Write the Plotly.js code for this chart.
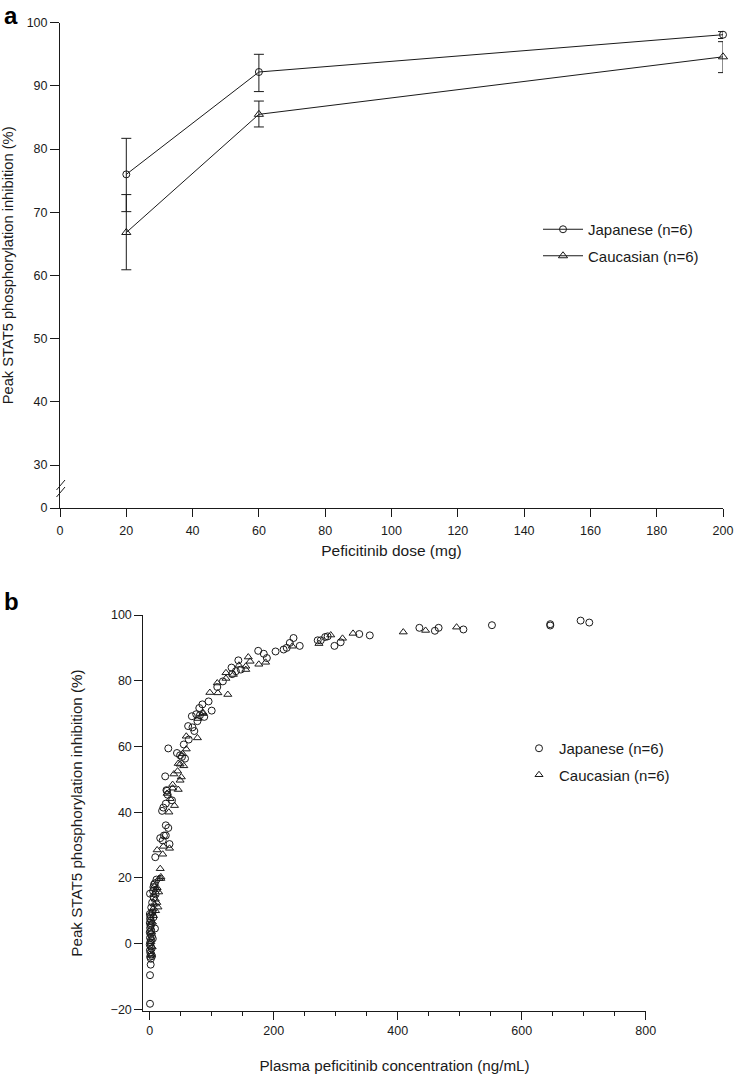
<!DOCTYPE html>
<html>
<head>
<meta charset="utf-8">
<script src="https://cdn.plot.ly/plotly-3.0.1.min.js"></script>
<style>
  html, body { margin: 0; padding: 0; background: #fff; }
  #chart { width: 734px; height: 1074px; }
</style>
</head>
<body>
<div id="chart"></div>
<script>
// Panel a: peak inhibition vs dose (mean +/- SD)
const doses = [20, 60, 200];
const jpnMean = [76.0, 92.2, 98.1];
const jpnErrUp = [5.7, 2.8, 0.5];
const jpnErrDown = [5.9, 3.1, 0.6];
const cauMean = [66.8, 85.5, 94.6];
const cauErrUp = [6.0, 2.1, 2.4];
const cauErrDown = [5.9, 2.0, 2.5];

const aTickText = ['0', '30', '40', '50', '60', '70', '80', '90', '100'];
const aBreakBase = 23.2; // where "0" sits below the axis break
const aXTicks = [0, 20, 40, 60, 80, 100, 120, 140, 160, 180, 200];

// Panel b: inhibition vs plasma concentration (individual points)
const jpnConc = [709, 695, 646, 646, 552, 506, 466, 460, 435, 355, 338, 308, 298, 287, 283, 276, 271, 242, 232, 226, 221, 216, 203, 189, 184, 175,
  147, 143, 139, 133, 132, 118, 109, 100, 95, 88, 85, 81, 80, 77, 75, 72, 69, 68, 63, 62, 57, 55, 52, 49, 44, 30, 36, 28, 29, 27, 26, 22, 20, 25, 30, 26, 32, 21, 26, 23, 17, 9,
  8.5, 6, 11, 7, 0.5, 8.5, 1.6, 0.5, 0.5,
  0.3, 1.2, 0.6, 2.0, 0.2, 1.5, 3.0, 0.8, 2.4, 0.1, 1.4, 3.6, 0.5, 2.1, 0.9, 0.2, 1.7, 3.1, 0.4, 1.1, 2.6, 0.7, 1.9, 3.8, 5.0, 6.0, 4.5, 4.0, 6.5, 2.5, 5.5, 9.5];
const jpnInhib = [97.7, 98.3, 97.2, 96.8, 96.9, 95.6, 96.1, 95.2, 96.1, 93.8, 94.2, 91.7, 90.6, 93.5, 93.3, 92.3, 92.3, 90.6, 93.0, 91.5, 90.0, 89.5, 88.9, 86.9, 88.2, 89.1,
  83.4, 86.2, 82.9, 82.0, 84.0, 79.8, 78.1, 70.9, 73.7, 69.0, 72.8, 69.5, 71.7, 67.7, 69.8, 64.7, 65.8, 69.2, 62.1, 66.2, 56.3, 60.6, 56.8, 57.3, 58.0, 59.4, 43.6, 46.5, 45.3, 46.7, 42.6, 41.4, 40.4, 50.9, 35.2, 36.0, 30.3, 31.4, 32.9, 32.9, 32.1, 26.3,
  18.4, 17.2, 19.5, 18.0, 15.2, 4.6, -6.4, -9.6, -18.3,
  9.0, 8.4, 7.6, 7.0, 6.3, 5.5, 6.0, 4.8, 4.1, 3.5, 2.9, 2.2, 1.8, 1.1, 0.4, -0.3, -0.9, -1.5, -2.0, -2.8, -3.3, -4.0, -4.6, -3.8, 1.5, 8.0, 9.5, 12.5, 14.0, 11.0, 16.0, 15.0];

const cauConc = [495, 445, 409, 328, 311, 292, 273, 230, 187, 176, 162, 159, 155, 155, 144, 135, 126, 123, 123, 110, 109, 97, 86, 86, 78, 77, 59, 59, 53, 55,
  49, 46, 45, 39, 51, 49, 46, 37, 37, 33, 28, 40, 31, 32, 22, 21, 12, 17, 18, 15, 18, 14.5, 13.4,
  5, 7.5, 9, 6, 10.5, 8, 11.5, 4.5, 3, 2, 4, 12, 6.5, 9.5, 3.5, 2.5];
const cauInhib = [96.3, 95.3, 94.8, 94.4, 92.9, 93.9, 91.3, 90.5, 85.6, 85.0, 85.9, 87.2, 84.4, 83.4, 84.7, 81.9, 75.8, 80.7, 82.4, 76.3, 79.3, 76.4, 70.3, 70.0, 68.5, 62.6, 63.1, 59.2, 57.8, 54.1,
  54.6, 54.8, 52.5, 51.6, 50.7, 49.7, 46.9, 47.3, 48.4, 44.1, 45.7, 42.0, 40.0, 29.0, 29.6, 27.2, 28.5, 22.8, 19.8, 19.8, 20.3, 15.7, 11.1,
  10.5, 12.0, 13.5, 8.5, 16.5, 17.5, 12.5, 6.5, 3.5, 0.5, -1.0, 17.0, 15.0, 10.0, 9.5, -3.5];

const bXTicks = [0, 200, 400, 600, 800];
const bYTicks = [-20, 0, 20, 40, 60, 80, 100];

const FONT = 'Liberation Sans, Arial, Helvetica, sans-serif';
const INK = '#1a1a1a';

const aTickVals = aTickText.map(t => t === '0' ? aBreakBase : Number(t));

const errStyle = (up, down) => ({
  type: 'data', symmetric: false, array: up, arrayminus: down,
  color: INK, thickness: 1, width: 5
});

const traces = [
  {
    x: doses, y: jpnMean, type: 'scatter', mode: 'lines+markers',
    name: 'Japanese (n=6)', legend: 'legend', legendgroup: 'j',
    line: {color: INK, width: 1},
    marker: {symbol: 'circle-open', size: 7, color: INK, line: {width: 1}},
    error_y: errStyle(jpnErrUp, jpnErrDown),
    xaxis: 'x', yaxis: 'y', cliponaxis: false
  },
  {
    x: doses, y: cauMean, type: 'scatter', mode: 'lines+markers',
    name: 'Caucasian (n=6)', legend: 'legend', legendgroup: 'c',
    line: {color: INK, width: 1},
    marker: {symbol: 'triangle-up-open', size: 8, color: INK, line: {width: 1}},
    error_y: errStyle(cauErrUp, cauErrDown),
    xaxis: 'x', yaxis: 'y', cliponaxis: false
  },
  {
    x: jpnConc, y: jpnInhib, type: 'scatter', mode: 'markers',
    name: 'Japanese (n=6)', legend: 'legend2', legendgroup: 'j2',
    marker: {symbol: 'circle-open', size: 7, color: INK, line: {width: 1}},
    xaxis: 'x2', yaxis: 'y2', cliponaxis: false
  },
  {
    x: cauConc, y: cauInhib, type: 'scatter', mode: 'markers',
    name: 'Caucasian (n=6)', legend: 'legend2', legendgroup: 'c2',
    marker: {symbol: 'triangle-up-open', size: 7, color: INK, line: {width: 1}},
    xaxis: 'x2', yaxis: 'y2', cliponaxis: false
  }
];

const W = 734, H = 1074;
const px = v => v / W;
const py = v => 1 - v / H;

const axisBase = {
  showgrid: false, zeroline: false, showline: true,
  linecolor: INK, linewidth: 1, ticks: 'outside', tickcolor: INK,
  tickwidth: 1, tickfont: {family: FONT, size: 12.5, color: INK}
};

const layout = {
  width: W, height: H,
  margin: {l: 0, r: 0, t: 0, b: 0},
  paper_bgcolor: '#fff', plot_bgcolor: '#fff',
  font: {family: FONT, color: INK},
  xaxis: Object.assign({}, axisBase, {
    domain: [px(60), px(723)], anchor: 'y', range: [0, 200],
    tickvals: aXTicks, ticklen: 8, ticklabelstandoff: 3,
    title: {text: 'Peficitinib dose (mg)', font: {family: FONT, size: 15.5, color: INK}, standoff: 8}
  }),
  yaxis: Object.assign({}, axisBase, {
    domain: [py(508), py(22.7)], anchor: 'x', range: [aBreakBase, 100],
    tickvals: aTickVals, ticktext: aTickText, ticklen: 9,
    title: {text: 'Peak STAT5 phosphorylation inhibition (%)', font: {family: FONT, size: 14.7, color: INK}, standoff: 10}
  }),
  xaxis2: Object.assign({}, axisBase, {
    domain: [px(143.3), px(645.7)], anchor: 'y2', range: [-10.3, 800],
    tickvals: bXTicks, ticklen: 8,
    minor: {dtick: 50, tick0: 0, ticks: 'outside', ticklen: 4, tickcolor: INK, tickwidth: 1},
    title: {text: 'Plasma peficitinib concentration (ng/mL)', font: {family: FONT, size: 15.2, color: INK}, standoff: 24}
  }),
  yaxis2: Object.assign({}, axisBase, {
    domain: [py(1011), py(615)], anchor: 'x2', range: [-20.5, 100],
    tickvals: bYTicks, ticklen: 8,
    title: {text: 'Peak STAT5 phosphorylation inhibition (%)', font: {family: FONT, size: 15.2, color: INK}, standoff: 24}
  }),
  legend: {
    x: px(538), y: py(213), xanchor: 'left', yanchor: 'top',
    bgcolor: 'rgba(0,0,0,0)', borderwidth: 0,
    font: {family: FONT, size: 15, color: INK},
    traceorder: 'grouped', tracegroupgap: 4, itemwidth: 40
  },
  legend2: {
    x: px(519), y: py(732), xanchor: 'left', yanchor: 'top',
    bgcolor: 'rgba(0,0,0,0)', borderwidth: 0,
    font: {family: FONT, size: 15, color: INK},
    traceorder: 'grouped', tracegroupgap: 4
  },
  shapes: [
    // axis break marks on panel a's y axis
    {type: 'line', xref: 'paper', yref: 'paper', x0: px(56.5), y0: py(490), x1: px(65), y1: py(480), line: {color: INK, width: 1}},
    {type: 'line', xref: 'paper', yref: 'paper', x0: px(56.5), y0: py(497), x1: px(65), y1: py(487), line: {color: INK, width: 1}}
  ],
  annotations: [
    {text: '<b>a</b>', xref: 'paper', yref: 'paper', x: px(2), y: py(0), xanchor: 'left', yanchor: 'top', showarrow: false, font: {family: FONT, size: 24, color: '#000'}},
    {text: '<b>b</b>', xref: 'paper', yref: 'paper', x: px(2), y: py(586), xanchor: 'left', yanchor: 'top', showarrow: false, font: {family: FONT, size: 24, color: '#000'}}
  ],
  showlegend: true
};

Plotly.newPlot('chart', traces, layout, {displayModeBar: false, staticPlot: true});
</script>
</body>
</html>
